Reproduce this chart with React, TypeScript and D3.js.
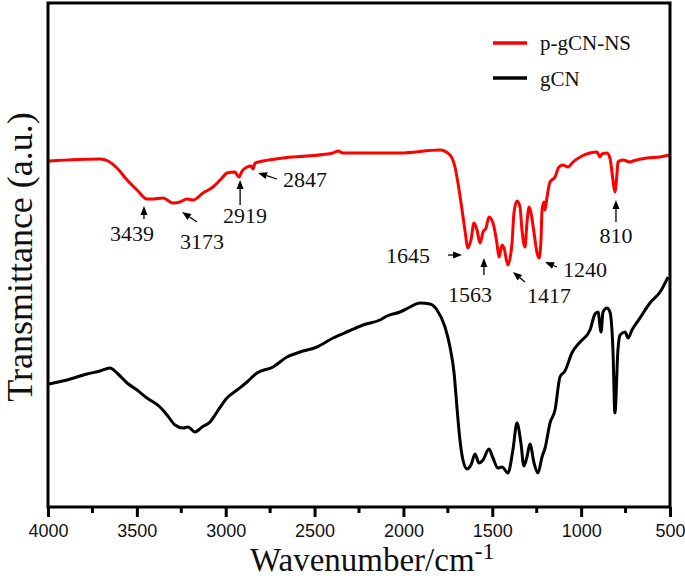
import { useEffect, useRef } from "react";
import * as d3 from "d3";

const xTicks = [4000, 3500, 3000, 2500, 2000, 1500, 1000, 500];
const xMinorTicks = [3750, 3250, 2750, 2250, 1750, 1250, 750];

// p-gCN-NS (red)
const pgcnWave = [
  3994, 3707, 3662, 3612, 3555, 3499, 3443, 3409, 3353, 3297, 3257, 3218, 3184, 3128, 3072, 3021,
  2993, 2948, 2936, 2925, 2908, 2880, 2858, 2846, 2835, 2790, 2678, 2543, 2396, 2368, 2340, 2301,
  2019, 1794, 1738, 1710, 1693, 1670, 1654, 1637, 1620, 1603, 1586, 1569, 1552, 1535, 1519, 1496,
  1474, 1462, 1445, 1434, 1412, 1389, 1378, 1361, 1344, 1333, 1316, 1305, 1293, 1282, 1265, 1248,
  1237, 1226, 1220, 1209, 1203, 1192, 1175, 1147, 1125, 1102, 1074, 1046, 995, 950, 911, 894, 883,
  855, 838, 821, 810, 798, 793, 765, 725, 708, 629, 556, 506,
];
const pgcnT = [
  34.6, 34.8, 34.6, 33.9, 32.7, 31.7, 30.8, 30.8, 30.9, 30.4, 30.5, 30.8, 30.7, 31.4, 32.0, 32.9,
  33.4, 33.5, 33.2, 33.0, 33.6, 34.0, 34.1, 33.8, 34.4, 34.6, 34.9, 35.1, 35.4, 35.6, 35.4, 35.4,
  35.4, 35.7, 35.2, 34.0, 32.4, 29.7, 27.7, 25.9, 26.7, 28.4, 27.7, 26.4, 27.5, 27.9, 29.0, 28.4,
  26.4, 25.0, 26.2, 25.9, 24.2, 26.4, 29.4, 30.6, 30.0, 27.7, 26.0, 28.4, 30.0, 29.4, 27.4, 25.4,
  24.9, 26.7, 29.7, 30.5, 29.7, 31.0, 32.5, 33.0, 34.0, 34.2, 34.0, 34.5, 35.1, 35.4, 35.5, 35.0,
  35.3, 35.4, 34.9, 32.7, 31.5, 33.4, 34.5, 34.7, 34.5, 34.6, 34.9, 35.0, 35.2,
];

// gCN (black)
const gcnWave = [
  3994, 3893, 3781, 3707, 3651, 3612, 3555, 3499, 3443, 3370, 3330, 3285, 3240, 3212, 3173, 3133,
  3088, 3049, 2993, 2936, 2880, 2824, 2734, 2655, 2582, 2486, 2396, 2306, 2227, 2132, 2092, 2019,
  1963, 1907, 1850, 1811, 1766, 1738, 1715, 1699, 1682, 1665, 1642, 1620, 1597, 1575, 1552, 1519,
  1496, 1468, 1445, 1412, 1384, 1361, 1339, 1322, 1305, 1288, 1265, 1243, 1220, 1203, 1175, 1147,
  1119, 1091, 1052, 1006, 950, 922, 905, 888, 877, 855, 838, 821, 810, 793, 781, 753, 736, 714, 669,
  613, 556, 511,
];
const gcnT = [
  12.3, 12.7, 13.3, 13.6, 13.9, 13.4, 12.4, 11.7, 10.9, 10.0, 9.2, 8.2, 7.9, 8.0, 7.5, 8.0,
  8.5, 9.5, 10.9, 11.7, 12.5, 13.4, 14.0, 15.0, 15.5, 16.0, 16.9, 17.6, 18.2, 18.7, 19.1, 19.5,
  20.0, 20.4, 20.3, 19.7, 18.0, 16.0, 13.4, 10.0, 6.7, 4.7, 3.8, 4.2, 5.3, 4.4, 4.7, 5.8,
  4.9, 3.9, 4.0, 3.4, 5.7, 8.4, 6.4, 4.1, 5.0, 6.3, 4.4, 3.4, 5.0, 5.9, 8.4, 9.7,
  13.0, 13.6, 15.4, 16.5, 17.7, 19.3, 19.5, 17.5, 19.5, 19.9, 19.5, 15.7, 9.4, 15.7, 17.2, 17.5,
  16.9, 17.7, 18.9, 20.4, 21.5, 23.0,
];

// peak annotations (wavenumber / a.u.)
const peakLabels = ["3439", "3173", "2919", "2847", "1645", "1563", "1417", "1240", "810"];
const peakTextW = [3527, 3133, 2891, 2678, 1850, 1625, 1181, 1102, 804];
const peakTextT = [26.6, 25.8, 28.4, 32.0, 24.4, 20.5, 20.4, 23.0, 26.4];
const peakAnchor = ["middle", "middle", "middle", "start", "end", "middle", "middle", "start", "middle"];
const arrowTailW = [3460, 3162, 2919, 2711, 1749, 1547, 1316, 1136, 804];
const arrowTailT = [28.8, 28.5, 30.2, 32.8, 25.2, 23.2, 22.5, 24.0, 28.5];
const arrowTipW = [3460, 3246, 2919, 2818, 1670, 1547, 1384, 1203, 804];
const arrowTipT = [30.1, 29.5, 32.7, 33.4, 25.2, 24.9, 23.5, 24.5, 30.7];

const seriesNames = ["p-gCN-NS", "gCN"];
const seriesColors = ["#ff0000", "#000000"];

const W = 685;
const H = 579;
const margin = { left: 48, right: 15, top: 3, bottom: 72 };

export default function App() {
  const svgRef = useRef<SVGSVGElement | null>(null);

  useEffect(() => {
    document.body.style.margin = "0";
    if (!svgRef.current) return;
    const svg = d3.select(svgRef.current);
    svg.selectAll("*").remove();

    const x = d3.scaleLinear().domain([4000, 500]).range([margin.left, W - margin.right]);
    const y = d3.scaleLinear().domain([0, 50.4]).range([H - margin.bottom, margin.top]);
    const bottom = H - margin.bottom;

    const line = d3
      .line<[number, number]>()
      .x((d) => x(d[0]))
      .y((d) => y(d[1]))
      .curve(d3.curveMonotoneX);

    const series = [
      pgcnWave.map((w, i) => [w, pgcnT[i]] as [number, number]),
      gcnWave.map((w, i) => [w, gcnT[i]] as [number, number]),
    ];

    series.forEach((s, i) => {
      svg
        .append("path")
        .attr("d", line(s))
        .attr("fill", "none")
        .attr("stroke", seriesColors[i])
        .attr("stroke-width", 3)
        .attr("stroke-linejoin", "round");
    });

    // frame
    svg
      .append("rect")
      .attr("x", margin.left)
      .attr("y", margin.top)
      .attr("width", W - margin.left - margin.right)
      .attr("height", bottom - margin.top)
      .attr("fill", "none")
      .attr("stroke", "#000")
      .attr("stroke-width", 3);

    const xAxis = svg.append("g").attr("transform", `translate(0,${bottom})`);
    xAxis
      .call(
        d3
          .axisBottom(x)
          .tickValues(xTicks)
          .tickSize(10)
          .tickPadding(7)
          .tickFormat(d3.format("d"))
      )
      .call((g) => g.select(".domain").remove());
    xAxis.selectAll("line").attr("stroke-width", 3);
    xAxis
      .selectAll("text")
      .attr("font-family", "Liberation Sans, Arial, sans-serif")
      .attr("font-size", 18)
      .attr("fill", "#111");

    svg
      .append("g")
      .selectAll("line")
      .data(xMinorTicks)
      .enter()
      .append("line")
      .attr("x1", (d) => x(d))
      .attr("x2", (d) => x(d))
      .attr("y1", bottom)
      .attr("y2", bottom + 6)
      .attr("stroke", "#000")
      .attr("stroke-width", 3);

    // annotations
    const ann = svg.append("g");
    peakLabels.forEach((lab, i) => {
      ann
        .append("text")
        .attr("x", x(peakTextW[i]))
        .attr("y", y(peakTextT[i]))
        .attr("text-anchor", peakAnchor[i])
        .attr("font-family", "Liberation Serif, Times New Roman, serif")
        .attr("font-size", 22)
        .attr("fill", "#111")
        .text(lab);

      const x1 = x(arrowTailW[i]);
      const y1 = y(arrowTailT[i]);
      const x2 = x(arrowTipW[i]);
      const y2 = y(arrowTipT[i]);
      const len = Math.hypot(x2 - x1, y2 - y1);
      const ux = (x2 - x1) / len;
      const uy = (y2 - y1) / len;
      const hl = 9;
      const hw = 3.5;
      const bx = x2 - ux * hl;
      const by = y2 - uy * hl;
      ann
        .append("line")
        .attr("x1", x1)
        .attr("y1", y1)
        .attr("x2", bx)
        .attr("y2", by)
        .attr("stroke", "#000")
        .attr("stroke-width", 1.3);
      ann
        .append("path")
        .attr(
          "d",
          `M${x2},${y2}L${bx - uy * hw},${by + ux * hw}L${bx + uy * hw},${by - ux * hw}Z`
        )
        .attr("fill", "#000");
    });

    // legend
    const leg = svg.append("g");
    const legY = [43, 78];
    const legTextY = [50, 86];
    seriesNames.forEach((name, i) => {
      leg
        .append("line")
        .attr("x1", 493)
        .attr("x2", 527)
        .attr("y1", legY[i])
        .attr("y2", legY[i])
        .attr("stroke", seriesColors[i])
        .attr("stroke-width", 3.5);
      leg
        .append("text")
        .attr("x", 540)
        .attr("y", legTextY[i])
        .attr("font-family", "Liberation Serif, Times New Roman, serif")
        .attr("font-size", 21)
        .attr("fill", "#111")
        .text(name);
    });

    // axis titles
    svg
      .append("text")
      .attr("transform", `translate(32,${257}) rotate(-90)`)
      .attr("text-anchor", "middle")
      .attr("font-family", "Liberation Serif, Times New Roman, serif")
      .attr("font-size", 36)
      .attr("fill", "#111")
      .text("Transmittance (a.u.)");

    const xt = svg
      .append("text")
      .attr("x", 250)
      .attr("y", 571)
      .attr("font-family", "Liberation Serif, Times New Roman, serif")
      .attr("font-size", 33)
      .attr("fill", "#111");
    xt.append("tspan").text("Wavenumber/cm");
    xt.append("tspan").attr("font-size", 24).attr("dy", -12).text("-1");
  }, []);

  return <svg ref={svgRef} width={W} height={H} style={{ display: "block", background: "#fff" }} />;
}
